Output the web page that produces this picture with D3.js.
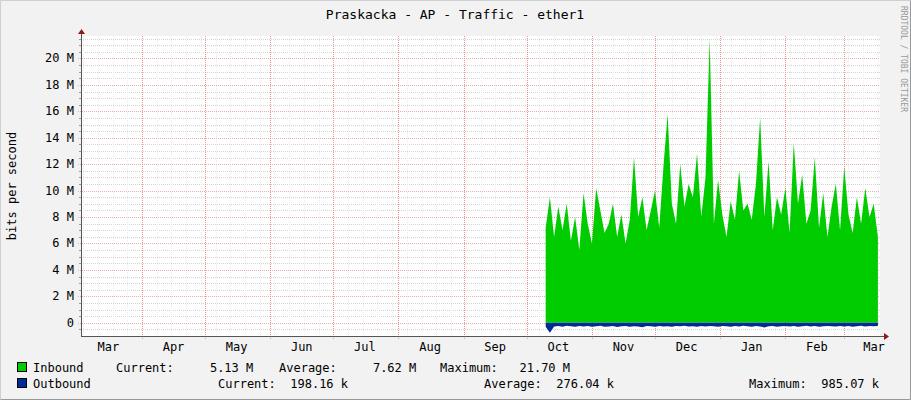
<!DOCTYPE html>
<html><head><meta charset="utf-8">
<script src="https://cdn.jsdelivr.net/npm/d3@7"></script>
<style>body{margin:0;background:#f2f2f2}text{font-family:"DejaVu Sans Mono",monospace;fill:#000}</style>
</head><body><svg id="c" width="911" height="400"></svg>
<script>
const title = "Praskacka - AP - Traffic - ether1";
const yTicks = [0,2,4,6,8,10,12,14,16,18,20];
const monthLabels = ["Mar","Apr","May","Jun","Jul","Aug","Sep","Oct","Nov","Dec","Jan","Feb","Mar"];
const dataStart = new Date(2018,9,10);
const stepDays = 2;
const inbound = [7.2,9.5,6.5,8.8,7.0,9.0,6.2,8.0,5.5,9.8, 7.5,6.0,10.2,8.5,6.8,7.5,9.0,6.5,8.2,6.0,
 7.8,12.5,8.0,9.5,7.0,8.5,10.0,7.2,11.8,15.8, 9.0,7.5,12.0,8.8,10.5,9.5,12.8,8.0,11.0,21.5,
 7.5,10.8,8.2,6.5,9.2,7.8,11.5,8.5,9.0,7.8, 10.5,15.5,8.0,12.2,7.0,9.5,8.2,10.2,6.8,13.6,
 9.0,11.2,7.5,8.5,12.5,7.2,9.8,6.5,8.8,10.5, 7.0,11.8,8.2,6.8,9.5,7.5,10.2,8.0,9.0,6.5];
const outbound = [0.3,0.75,0.28,0.25,0.3,0.22,0.27,0.3,0.25,0.28, 0.24,0.3,0.26,0.22,0.3,0.28,0.25,0.32,0.27,0.24,
 0.3,0.26,0.28,0.33,0.25,0.27,0.3,0.24,0.28,0.26, 0.3,0.25,0.27,0.22,0.29,0.26,0.3,0.24,0.28,0.25,
 0.27,0.3,0.24,0.26,0.3,0.25,0.28,0.23,0.27,0.3, 0.25,0.28,0.35,0.26,0.24,0.3,0.27,0.25,0.28,0.24,
 0.3,0.26,0.23,0.28,0.25,0.3,0.27,0.24,0.26,0.29, 0.25,0.28,0.24,0.3,0.26,0.23,0.28,0.25,0.27,0.24];
const legendIn = ["Inbound","Current:     5.13 M","Average:     7.62 M","Maximum:   21.70 M"];
const legendOut = ["Outbound","Current:  198.16 k","Average:  276.04 k","Maximum:  985.07 k"];

const svg = d3.select("#c");
svg.append("rect").attr("x",0).attr("y",0).attr("width",911).attr("height",400).attr("fill","#f2f2f2");
svg.append("path").attr("d","M0.5,399.5V0.5H910.5").attr("stroke","#d0d0d0").attr("fill","none");
svg.append("path").attr("d","M0.5,399.5H910.5V0.5").attr("stroke","#999").attr("fill","none");
const L=81,R=880,T=36,B=336;
const x = d3.scaleTime().domain([new Date(2018,2,3), new Date(2019,2,18)]).range([L,R]);
const y = d3.scaleLinear().domain([-1,21.7]).range([B,T]);
svg.append("rect").attr("x",L).attr("y",T).attr("width",R-L).attr("height",B-T).attr("fill","#fff");
const g = svg.append("g");
d3.range(-0.5,21.6,0.5).filter(v=>Math.abs(v%2)>0.01).forEach(v=>{
 g.append("line").attr("x1",L).attr("x2",R).attr("y1",Math.round(y(v))+0.5).attr("y2",Math.round(y(v))+0.5)
  .attr("stroke","#d4d4d4").attr("stroke-dasharray","1,1");
 g.append("line").attr("x1",L-2).attr("x2",L).attr("y1",Math.round(y(v))+0.5).attr("y2",Math.round(y(v))+0.5).attr("stroke","#999");
});
x.ticks(d3.timeWeek.every(1)).forEach(d=>{
 g.append("line").attr("x1",Math.round(x(d))+0.5).attr("x2",Math.round(x(d))+0.5).attr("y1",T).attr("y2",B)
  .attr("stroke","#ececec").attr("stroke-dasharray","1,1");
});
yTicks.forEach(v=>{
 g.append("line").attr("x1",L-3).attr("x2",R).attr("y1",Math.round(y(v))+0.5).attr("y2",Math.round(y(v))+0.5)
  .attr("stroke","#e6b0b0").attr("stroke-dasharray","1,1");
 svg.append("text").attr("x",L-7).attr("y",y(v)+4).attr("text-anchor","end").attr("font-size",12).text(v===0?"0":v+"\u00a0M");
});
d3.timeMonth.range(new Date(2018,3,1), new Date(2019,2,2)).forEach(d=>{
 g.append("line").attr("x1",Math.round(x(d))+0.5).attr("x2",Math.round(x(d))+0.5).attr("y1",T).attr("y2",B+3)
  .attr("stroke","#f09090").attr("stroke-dasharray","1,1");
});
d3.timeMonth.range(new Date(2018,2,1), new Date(2019,3,1)).forEach((d,i)=>{
 const c = d3.timeDay.offset(d,15);
 svg.append("text").attr("x",Math.min(x(c),874)).attr("y",351).attr("text-anchor","middle").attr("font-size",12).text(monthLabels[i]);
});
const dates = inbound.map((v,i)=>d3.timeDay.offset(dataStart,i*stepDays));
svg.append("path").datum(inbound).attr("fill","#00cc00")
 .attr("d",d3.area().x((d,i)=>x(dates[i])).y0(y(0)).y1(d=>y(d)));
svg.append("path").datum(outbound).attr("fill","#002a97")
 .attr("d",d3.area().x((d,i)=>x(dates[i])).y0(y(0)).y1(d=>y(-d)));
svg.append("line").attr("x1",L+0.5).attr("x2",L+0.5).attr("y1",B).attr("y2",T-4).attr("stroke","#555");
svg.append("line").attr("x1",L).attr("x2",R+4).attr("y1",B+0.5).attr("y2",B+0.5).attr("stroke","#555");
svg.append("path").attr("d",`M${L-3},${T-2}L${L+0.5},${T-7}L${L+4},${T-2}Z`).attr("fill","#8b1a1a");
svg.append("path").attr("d",`M${R+4},${B-3}L${R+9},${B+0.5}L${R+4},${B+4}Z`).attr("fill","#8b1a1a");
svg.append("text").attr("x",455).attr("y",19).attr("text-anchor","middle").attr("font-size",13).text(title);
svg.append("text").attr("transform","translate(16,186) rotate(-90)").attr("text-anchor","middle").attr("font-size",12).text("bits per second");
svg.append("text").attr("transform","translate(901,6) rotate(90)").attr("font-size",8).style("fill","#999").text("RRDTOOL / TOBI OETIKER");
function legend(yy,col,items,xs){
 svg.append("rect").attr("x",17.5).attr("y",yy-9.5).attr("width",9).attr("height",9).attr("fill",col).attr("stroke","#000");
 items.forEach((t,i)=>svg.append("text").attr("x",xs[i]).attr("y",yy).attr("font-size",12).text(t.replace(/ /g,"\u00a0")));
}
legend(372,"#00cc00",legendIn,[33,116,279,440]);
legend(388,"#002a97",legendOut,[33,218,484,749]);
</script></body></html>
